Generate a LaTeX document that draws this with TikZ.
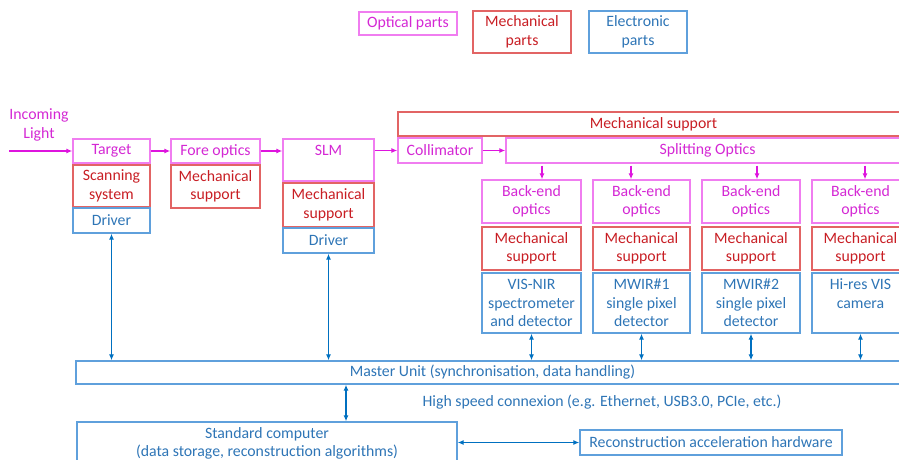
\documentclass[tikz,border=0pt]{standalone}
\usepackage{fontspec}
\setmainfont{Carlito}
\usetikzlibrary{arrows.meta}

\definecolor{optline}{RGB}{240,125,240}
\definecolor{opttext}{RGB}{212,40,212}
\definecolor{optarr}{RGB}{222,20,222}
\definecolor{mechline}{RGB}{226,100,100}
\definecolor{mechtext}{RGB}{200,30,36}
\definecolor{elecline}{RGB}{95,160,220}
\definecolor{electext}{RGB}{46,117,182}
\definecolor{elecarr}{RGB}{0,112,192}

\begin{document}
\begin{tikzpicture}[x=1pt,y=-1pt,
		>={Latex[length=6pt,width=5pt]},
		font=\fontsize{15.8}{18.5}\selectfont,
		part/.style={draw, line width=1.3pt, inner sep=0pt, align=center},
		optbox/.style={part, draw=optline, text=opttext},
		mechbox/.style={part, draw=mechline, text=mechtext},
		elecbox/.style={part, draw=elecline, text=electext},
		optarrow/.style={->, optarr, line width=1.6pt},
		elecarrow/.style={<->, elecarr, line width=1.7pt}
	]
	\clip (0,0) rectangle (899,460);
	
	% legend
	\node[optbox, minimum width=98pt, minimum height=23pt] (optleg) at (408,23.5) {Optical parts};
	\node[mechbox, minimum width=98pt, minimum height=42pt] (mechleg) at (522,32) {Mechanical\\parts};
	\node[elecbox, minimum width=98pt, minimum height=42pt] (elecleg) at (638,32) {Electronic\\parts};
	
	% front part
	\node[align=center, text=opttext] (light) at (39,125) {Incoming\\Light};
	\coordinate (in) at (9,151);
	\node[optbox, minimum width=77pt, minimum height=24pt] (target) at (111.5,151) {Target};
	\node[mechbox, minimum width=77pt, minimum height=42pt] (scan) at (111.5,186) {Scanning\\system};
	\node[elecbox, minimum width=77pt, minimum height=25pt] (drv1) at (111.5,220.5) {Driver};
	
	\node[optbox, minimum width=89pt, minimum height=24pt] (fore) at (215.5,151) {Fore optics};
	\node[mechbox, minimum width=89pt, minimum height=43pt] (mfore) at (215.5,186.5) {Mechanical\\support};
	
	\node[optbox, minimum width=91pt, minimum height=42pt] (slm) at (328.5,160) {SLM\\\mbox{}};
	\node[mechbox, minimum width=91pt, minimum height=44pt] (mslm) at (328.5,205) {Mechanical\\support};
	\node[elecbox, minimum width=91pt, minimum height=25pt] (drv2) at (328.5,240.5) {Driver};
	
	\node[mechbox, minimum width=511pt, minimum height=24pt] (mbig) at (653.5,124) {Mechanical support};
	\node[optbox, minimum width=84pt, minimum height=25pt] (coll) at (440,150.5) {Collimator};
	\node[optbox, minimum width=403pt, minimum height=25pt] (split) at (707.5,150.5) {Splitting Optics};
	
	% back-end columns
	\node[optbox, minimum width=99pt, minimum height=43pt] (be1) at (531.5,201.5) {Back-end\\optics};
	\node[optbox, minimum width=97pt, minimum height=43pt] (be2) at (641.5,201.5) {Back-end\\optics};
	\node[optbox, minimum width=98pt, minimum height=43pt] (be3) at (751,201.5) {Back-end\\optics};
	\node[optbox, minimum width=97pt, minimum height=43pt] (be4) at (860.5,201.5) {Back-end\\optics};
	
	\node[mechbox, minimum width=99pt, minimum height=43pt] (ms1) at (531.5,248.5) {Mechanical\\support};
	\node[mechbox, minimum width=97pt, minimum height=43pt] (ms2) at (641.5,248.5) {Mechanical\\support};
	\node[mechbox, minimum width=98pt, minimum height=43pt] (ms3) at (751,248.5) {Mechanical\\support};
	\node[mechbox, minimum width=97pt, minimum height=43pt] (ms4) at (860.5,248.5) {Mechanical\\support};
	
	\node[elecbox, minimum width=99pt, minimum height=60pt] (det1) at (531.5,303) {VIS-NIR\\spectrometer\\and detector};
	\node[elecbox, minimum width=97pt, minimum height=60pt] (det2) at (641.5,303) {MWIR\#1\\single pixel\\detector};
	\node[elecbox, minimum width=98pt, minimum height=60pt] (det3) at (751,303) {MWIR\#2\\single pixel\\detector};
	\node[elecbox, minimum width=97pt, minimum height=60pt] (det4) at (860.5,303) {Hi-res VIS\\camera\\\mbox{}};
	
	% electronics
	\node[elecbox, minimum width=833pt, minimum height=23pt] (master) at (492.5,372.5) {Master Unit (synchronisation, data handling)};
	\node[text=electext] (link) at (602,402) {High speed connexion (e.g. Ethernet, USB3.0, PCIe, etc.)};
	\node[elecbox, minimum width=380pt, minimum height=43pt] (comp) at (267,443.5) {Standard computer\\(data storage, reconstruction algorithms)};
	\node[elecbox, minimum width=262pt, minimum height=25pt] (recon) at (711,442.5) {Reconstruction acceleration hardware};
	
	% light path
	\draw[optarrow] (in) -- (target.west);
	\draw[optarrow] (target.east) -- (fore.west);
	\draw[optarrow] (fore.east) -- (fore.east -| slm.west);
	\draw[optarrow] (slm.east |- coll.west) -- (coll.west);
	\draw[optarrow] (coll.east) -- (split.west);
	
	\coordinate (s1) at (542,0);
	\coordinate (s2) at (631,0);
	\coordinate (s3) at (757,0);
	\coordinate (s4) at (865,0);
	\foreach \i in {1,...,4}
		\draw[optarrow] ([yshift=-2pt]split.south -| s\i) -- (be\i.north -| s\i);
	
	% data links
	\draw[elecarrow] (drv1.south) -- (drv1.south |- master.north);
	\draw[elecarrow] (drv2.south) -- (drv2.south |- master.north);
	\foreach \i in {1,...,4}
		\draw[elecarrow] (det\i.south) -- (det\i.south |- master.north);
	
	\coordinate (c) at (346,0);
	\draw[elecarrow] (master.south -| c) -- (comp.north -| c);
	\draw[elecarrow] (comp.east |- recon.west) -- (recon.west);
\end{tikzpicture}
\end{document}
